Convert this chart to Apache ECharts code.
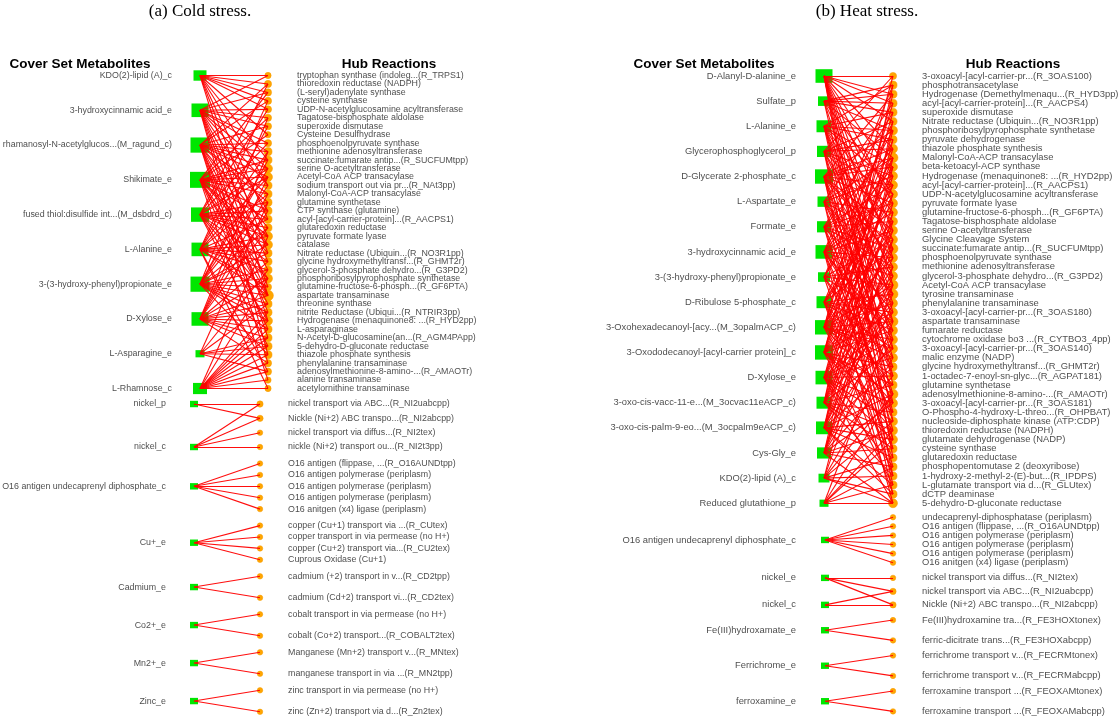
<!DOCTYPE html>
<html><head><meta charset="utf-8">
<script src="https://cdn.jsdelivr.net/npm/echarts@6/dist/echarts.min.js"></script>
<style>html,body{margin:0;padding:0;background:#fff}#c{width:1120px;height:724px}</style>
</head><body><div id="c"></div>
<script>
// ===================== DATA =====================
const coldHubMetabolites = ['KDO(2)-lipid (A)_c','3-hydroxycinnamic acid_e','rhamanosyl-N-acetylglucos...(M_ragund_c)','Shikimate_e','fused thiol:disulfide int...(M_dsbdrd_c)','L-Alanine_e','3-(3-hydroxy-phenyl)propionate_e','D-Xylose_e','L-Asparagine_e','L-Rhamnose_c'];
const coldHubReactions = ['tryptophan synthase (indoleg...(R_TRPS1)','thioredoxin reductase (NADPH)','(L-seryl)adenylate synthase','cysteine synthase','UDP-N-acetylglucosamine acyltransferase','Tagatose-bisphosphate aldolase','superoxide dismutase','Cysteine Desulfhydrase','phosphoenolpyruvate synthase','methionine adenosyltransferase','succinate:fumarate antip...(R_SUCFUMtpp)','serine O-acetyltransferase','Acetyl-CoA ACP transacylase','sodium transport out via pr...(R_NAt3pp)','Malonyl-CoA-ACP transacylase','glutamine synthetase','CTP synthase (glutamine)','acyl-[acyl-carrier-protein]...(R_AACPS1)','glutaredoxin reductase','pyruvate formate lyase','catalase','Nitrate reductase (Ubiquin...(R_NO3R1pp)','glycine hydroxymethyltransf...(R_GHMT2r)','glycerol-3-phosphate dehydro...(R_G3PD2)','phosphoribosylpyrophosphate synthetase','glutamine-fructose-6-phosph...(R_GF6PTA)','aspartate transaminase','threonine synthase','nitrite Reductase (Ubiqui...(R_NTRIR3pp)','Hydrogenase (menaquinone8: ...(R_HYD2pp)','L-asparaginase','N-Acetyl-D-glucosamine(an...(R_AGM4PApp)','5-dehydro-D-gluconate reductase','thiazole phosphate synthesis','phenylalanine transaminase','adenosylmethionine-8-amino-...(R_AMAOTr)','alanine transaminase','acetylornithine transaminase'];
const coldHubLinks = [
  [0,1,2,3,4,7,10,13,17,21,26],
  [0,2,4,5,6,8,9,11,13,16,19,22,25,29,33],
  [1,3,6,8,9,10,11,12,14,15,18,20,23,26,28,31,34],
  [2,5,7,10,11,12,13,14,16,17,19,20,21,24,26,27,30,36],
  [1,4,8,11,12,15,16,17,18,19,20,22,24,26,29,32],
  [3,6,9,12,14,17,19,20,21,22,23,25,26,35,37],
  [5,10,11,13,15,18,20,21,23,24,25,26,27,28,29,30,33],
  [9,12,14,16,18,22,24,26,27,28,29,30,31,32,34],
  [15,23,27,31,32,33,35],
  [19,24,28,29,30,31,32,33,34,35,36,37]
];
const coldGroupMetabolites = [['nickel_p','nickel_c'],['O16 antigen undecaprenyl diphosphate_c'],['Cu+_e'],['Cadmium_e'],['Co2+_e'],['Mn2+_e'],['Zinc_e']];
const coldGroupReactions = [
  ['nickel transport via ABC...(R_NI2uabcpp)','Nickle (Ni+2) ABC transpo...(R_NI2abcpp)','nickel transport via diffus...(R_NI2tex)','nickle (Ni+2) transport ou...(R_NI2t3pp)'],
  ['O16 antigen (flippase, ...(R_O16AUNDtpp)','O16 antigen polymerase (periplasm)','O16 antigen polymerase (periplasm)','O16 antigen polymerase (periplasm)','O16 anitgen (x4) ligase (periplasm)'],
  ['copper (Cu+1) transport via ...(R_CUtex)','copper transport in via permease (no H+)','copper (Cu+2) transport via...(R_CU2tex)','Cuprous Oxidase (Cu+1)'],
  ['cadmium (+2) transport in v...(R_CD2tpp)','cadmium (Cd+2) transport vi...(R_CD2tex)'],
  ['cobalt transport in via permease (no H+)','cobalt (Co+2) transport...(R_COBALT2tex)'],
  ['Manganese (Mn+2) transport v...(R_MNtex)','manganese transport in via ...(R_MN2tpp)'],
  ['zinc transport in via permease (no H+)','zinc (Zn+2) transport via d...(R_Zn2tex)']
];
const coldGroupLinks = [[[0,1],[0,1,2,3]],[[0,1,2,3,4]],[[0,1,2,3]],[[0,1]],[[0,1]],[[0,1]],[[0,1]]];

const heatHubMetabolites = ['D-Alanyl-D-alanine_e','Sulfate_p','L-Alanine_e','Glycerophosphoglycerol_p','D-Glycerate 2-phosphate_c','L-Aspartate_e','Formate_e','3-hydroxycinnamic acid_e','3-(3-hydroxy-phenyl)propionate_e','D-Ribulose 5-phosphate_c','3-Oxohexadecanoyl-[acy...(M_3opalmACP_c)','3-Oxododecanoyl-[acyl-carrier protein]_c','D-Xylose_e','3-oxo-cis-vacc-11-e...(M_3ocvac11eACP_c)','3-oxo-cis-palm-9-eo...(M_3ocpalm9eACP_c)','Cys-Gly_e','KDO(2)-lipid (A)_c','Reduced glutathione_p'];
const heatHubReactions = ['3-oxoacyl-[acyl-carrier-pr...(R_3OAS100)','phosphotransacetylase','Hydrogenase (Demethylmenaqu...(R_HYD3pp)','acyl-[acyl-carrier-protein]...(R_AACPS4)','superoxide dismutase','Nitrate reductase (Ubiquin...(R_NO3R1pp)','phosphoribosylpyrophosphate synthetase','pyruvate dehydrogenase','thiazole phosphate synthesis','Malonyl-CoA-ACP transacylase','beta-ketoacyl-ACP synthase','Hydrogenase (menaquinone8: ...(R_HYD2pp)','acyl-[acyl-carrier-protein]...(R_AACPS1)','UDP-N-acetylglucosamine acyltransferase','pyruvate formate lyase','glutamine-fructose-6-phosph...(R_GF6PTA)','Tagatose-bisphosphate aldolase','serine O-acetyltransferase','Glycine Cleavage System','succinate:fumarate antip...(R_SUCFUMtpp)','phosphoenolpyruvate synthase','methionine adenosyltransferase','glycerol-3-phosphate dehydro...(R_G3PD2)','Acetyl-CoA ACP transacylase','tyrosine transaminase','phenylalanine transaminase','3-oxoacyl-[acyl-carrier-pr...(R_3OAS180)','aspartate transaminase','fumarate reductase','cytochrome oxidase bo3 ...(R_CYTBO3_4pp)','3-oxoacyl-[acyl-carrier-pr...(R_3OAS140)','malic enzyme (NADP)','glycine hydroxymethyltransf...(R_GHMT2r)','1-octadec-7-enoyl-sn-glyc...(R_AGPAT181)','glutamine synthetase','adenosylmethionine-8-amino-...(R_AMAOTr)','3-oxoacyl-[acyl-carrier-pr...(R_3OAS181)','O-Phospho-4-hydroxy-L-threo...(R_OHPBAT)','nucleoside-diphosphate kinase (ATP:CDP)','thioredoxin reductase (NADPH)','glutamate dehydrogenase (NADP)','cysteine synthase','glutaredoxin reductase','phosphopentomutase 2 (deoxyribose)','1-hydroxy-2-methyl-2-(E)-but...(R_IPDPS)','L-glutamate transport via d...(R_GLUtex)','dCTP deaminase','5-dehydro-D-gluconate reductase'];
const heatHubLinks = [
  [0,2,3,5,8,11,14,17,20,23,26,30,34,38,42],
  [1,2,3,4,6,9,13,19,27,36],
  [1,4,6,7,10,12,15,18,22,25,29,33,40],
  [0,5,7,8,11,13,16,21,24,31,37,44],
  [2,6,8,9,10,12,14,17,19,20,23,28,32,35,41,45],
  [3,9,11,15,18,22,24,27,30,39,46],
  [4,8,12,14,16,19,21,24,26,33,38,43],
  [1,6,10,13,15,17,20,22,25,28,29,31,36,40,47],
  [5,9,11,18,21,23,27,32,35,44],
  [7,12,14,16,19,24,26,28,30,34,37,41,46],
  [0,3,9,10,13,17,20,23,25,27,29,30,31,33,36,42],
  [2,4,8,12,16,19,22,24,26,28,32,34,35,37,39,45],
  [6,11,15,18,21,25,27,29,31,33,36,38,40,43,47],
  [1,7,13,17,20,23,26,30,34,37,39,41,44],
  [5,10,14,19,22,24,28,32,35,38,40,42,45,46],
  [9,16,18,21,25,29,33,36,39,41,43,47],
  [15,23,31,35,38,42,44,46,47],
  [27,35,39,40,43,45,47]
];
const heatGroupMetabolites = [['O16 antigen undecaprenyl diphosphate_c'],['nickel_e','nickel_c'],['Fe(III)hydroxamate_e'],['Ferrichrome_e'],['ferroxamine_e']];
const heatGroupReactions = [
  ['undecaprenyl-diphosphatase (periplasm)','O16 antigen (flippase, ...(R_O16AUNDtpp)','O16 antigen polymerase (periplasm)','O16 antigen polymerase (periplasm)','O16 antigen polymerase (periplasm)','O16 anitgen (x4) ligase (periplasm)'],
  ['nickel transport via diffus...(R_NI2tex)','nickel transport via ABC...(R_NI2uabcpp)','Nickle (Ni+2) ABC transpo...(R_NI2abcpp)'],
  ['Fe(III)hydroxamine tra...(R_FE3HOXtonex)','ferric-dicitrate trans...(R_FE3HOXabcpp)'],
  ['ferrichrome transport v...(R_FECRMtonex)','ferrichrome transport v...(R_FECRMabcpp)'],
  ['ferroxamine transport ...(R_FEOXAMtonex)','ferroxamine transport ...(R_FEOXAMabcpp)']
];
const heatGroupLinks = [[[0,1,2,3,4,5]],[[0,1,2],[1,2]],[[0,1]],[[0,1]],[[0,1]]];

// ===================== LAYOUT =====================
const coldLayout = {top:75.5, rStep:8.46, metX:200, rxnX:268, metLabelX:172, rxnLabelX:297,
  lowMetX:194, lowRxnX:260, lowMetLabelX:166, lowRxnLabelX:288, gap0:15.5, gap:16.5, font:8.85,
  band:(n,m)=> m>1 ? 43 : Math.max(21.5, 11.4*(n-1))};
const heatLayout = {top:76, rStep:9.09, metX:824, rxnX:893, metLabelX:796, rxnLabelX:922,
  lowMetX:825, lowRxnX:893, lowMetLabelX:796, lowRxnLabelX:922, gap0:14, gap:15.2, font:9.4,
  band:(n,m)=> m>1 ? 13.5*(n-1) : Math.max(20.3, 9.09*(n-1))};

function buildPanel(L, hubMets, hubRxns, hubLinks, gMets, gRxns, gLinks){
  const mets=[], rxns=[], edges=[];
  const nR=hubRxns.length, nM=hubMets.length;
  const rY=i=>L.top+i*L.rStep;
  const span=(nR-1)*L.rStep;
  const deg=new Array(nR).fill(0);
  hubLinks.forEach(l=>l.forEach(r=>deg[r]++));
  hubRxns.forEach((name,i)=>rxns.push({name,x:L.rxnX,y:rY(i),deg:deg[i],lx:L.rxnLabelX,fs:L.font}));
  hubMets.forEach((name,j)=>{
    const y=L.top+j*span/(nM-1);
    mets.push({name,x:L.metX,y,deg:hubLinks[j].length,lx:L.metLabelX,fs:L.font});
    hubLinks[j].forEach(r=>edges.push([[L.metX,y],[L.rxnX,rY(r)]]));
  });
  let y0=rY(nR-1)+L.gap0;
  gMets.forEach((gm,g)=>{
    const gr=gRxns[g], n=gr.length, band=L.band(n,gm.length), step=band/(n-1);
    const d=new Array(n).fill(0); gLinks[g].forEach(l=>l.forEach(r=>d[r]++));
    gr.forEach((name,i)=>rxns.push({name,x:L.lowRxnX,y:y0+i*step,deg:d[i],lx:L.lowRxnLabelX,fs:L.font}));
    gm.forEach((name,j)=>{
      const y= gm.length===1 ? y0+band/2 : y0+j*band/(gm.length-1);
      mets.push({name,x:L.lowMetX,y,deg:gLinks[g][j].length,lx:L.lowMetLabelX,fs:L.font});
      gLinks[g][j].forEach(r=>edges.push([[L.lowMetX,y],[L.lowRxnX,y0+r*step]]));
    });
    y0+=band+L.gap;
  });
  return {mets,rxns,edges};
}

const cold=buildPanel(coldLayout,coldHubMetabolites,coldHubReactions,coldHubLinks,coldGroupMetabolites,coldGroupReactions,coldGroupLinks);
const heat=buildPanel(heatLayout,heatHubMetabolites,heatHubReactions,heatHubLinks,heatGroupMetabolites,heatGroupReactions,heatGroupLinks);
const allMets=cold.mets.concat(heat.mets), allRxns=cold.rxns.concat(heat.rxns), allEdges=cold.edges.concat(heat.edges);

const FONT='"Liberation Sans", Arial, sans-serif';
const metW=d=>Math.max(8, Math.min(21, 2+d));
const rxnD=d=>Math.max(5.5, Math.min(13, 4.5+0.9*d));
const head=(t,x,y)=>({type:'text',x,y,style:{text:t,font:'bold 13.5px '+FONT,align:'center',verticalAlign:'middle',fill:'#000'}});
const cap=(t,x,y)=>({type:'text',x,y,style:{text:t,font:'17px "Liberation Serif", serif',align:'center',verticalAlign:'middle',fill:'#000'}});

const chart=echarts.init(document.getElementById('c'),null,{renderer:'canvas'});
chart.setOption({
  animation:false,
  backgroundColor:'#fff',
  grid:{left:0,right:0,top:0,bottom:0},
  xAxis:{type:'value',min:0,max:1120,show:false},
  yAxis:{type:'value',min:0,max:724,inverse:true,show:false},
  graphic:[
    cap('(a) Cold stress.',200,12), cap('(b) Heat stress.',867,12),
    head('Cover Set Metabolites',80,64), head('Hub Reactions',389,64),
    head('Cover Set Metabolites',704,64), head('Hub Reactions',1013,64)
  ],
  series:[
    {type:'scatter',silent:true,z:2,symbol:'rect',
     data:allMets.map(m=>({name:m.name,value:[m.x,m.y],symbolSize:[metW(m.deg),metW(m.deg)*0.8]})),
     itemStyle:{color:'#00e600',opacity:1}},
    {type:'scatter',silent:true,z:2,symbol:'circle',
     data:allRxns.map(r=>({name:r.name,value:[r.x,r.y],symbolSize:rxnD(r.deg)})),
     itemStyle:{color:'#ffa500',borderColor:'#f59a00',borderWidth:0.5,opacity:1}},
    {type:'lines',coordinateSystem:'cartesian2d',silent:true,z:3,
     data:allEdges.map(e=>({coords:e})),
     lineStyle:{color:'#ff0000',width:1.1,opacity:0.95}},
    {type:'scatter',silent:true,z:4,symbolSize:0.1,itemStyle:{color:'rgba(0,0,0,0)'},
     data:allMets.map(m=>({name:m.name,value:[m.lx,m.y],label:{fontSize:m.fs}})),
     label:{show:true,position:'left',distance:0,formatter:'{b}',fontFamily:FONT,color:'#1a1a1a'}},
    {type:'scatter',silent:true,z:4,symbolSize:0.1,itemStyle:{color:'rgba(0,0,0,0)'},
     data:allRxns.map(r=>({name:r.name,value:[r.lx,r.y],label:{fontSize:r.fs}})),
     label:{show:true,position:'right',distance:0,formatter:'{b}',fontFamily:FONT,color:'#1a1a1a'}}
  ]
});
</script></body></html>
